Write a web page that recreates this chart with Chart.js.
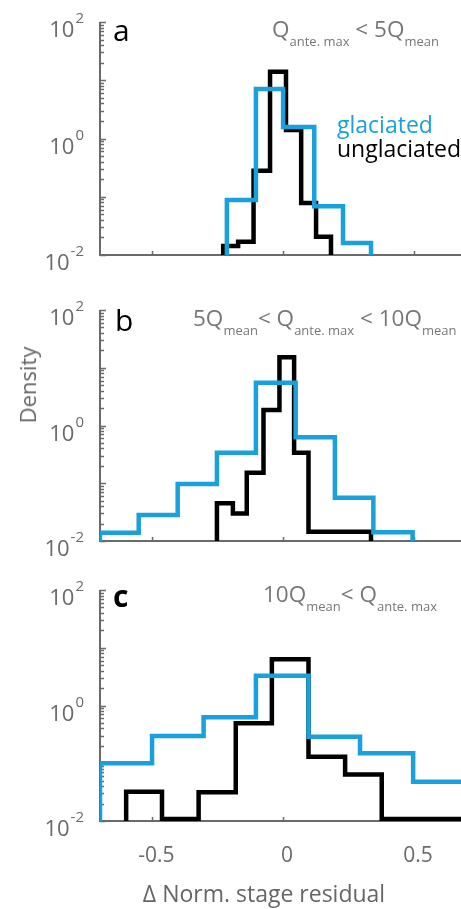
<!DOCTYPE html>
<html>
<head>
<meta charset="utf-8">
<title>Norm. stage residual density</title>
<script src="https://cdn.jsdelivr.net/npm/chart.js@4.4.1/dist/chart.umd.min.js"></script>
<style>
    html, body { margin: 0; padding: 0; background: #fff; }
    body { width: 461px; height: 909px; position: relative; overflow: hidden; font-family: 'Open Sans', sans-serif; }
    .panel { position: absolute; left: 0; width: 461px; }
    .panel canvas { position: absolute; left: 0; top: 0; }
    .lbl { position: absolute; white-space: nowrap; line-height: 1; }
    .letter { font-size: 30px; color: #000; }
    .cond { font-size: 22.5px; color: #777; }
    .cond sub { font-size: 13px; vertical-align: -9px; line-height: 1; }
    .legend { font-size: 23px; }
    .axis-title { font-size: 22px; color: #666; }
</style>
</head>
<body>

<div class="panel" id="panelA" style="top:0;height:290px"><canvas id="chartA" width="461" height="290"></canvas></div>
<div class="panel" id="panelB" style="top:290px;height:290px"><canvas id="chartB" width="461" height="290"></canvas></div>
<div class="panel" id="panelC" style="top:580px;height:329px"><canvas id="chartC" width="461" height="329"></canvas></div>

<div class="lbl letter" style="left:113px;top:15px">a</div>
<div class="lbl letter" style="left:115px;top:305px">b</div>
<div class="lbl letter" style="left:113px;top:581px;font-weight:700">c</div>

<div class="lbl cond" style="left:272px;top:18px">Q<sub>ante. max</sub> &lt; 5Q<sub>mean</sub></div>
<div class="lbl cond" style="left:193px;top:307px">5Q<sub>mean</sub>&lt; Q<sub>ante. max</sub> &lt; 10Q<sub>mean</sub></div>
<div class="lbl cond" style="left:263px;top:583px">10Q<sub>mean</sub>&lt; Q<sub>ante. max</sub></div>

<div class="lbl legend" style="left:337px;top:113px;color:#1aa0da">glaciated</div>
<div class="lbl legend" style="left:337px;top:137px;color:#000">unglaciated</div>

<div class="lbl axis-title" style="left:27px;top:385px;transform:translate(-50%,-50%) rotate(-90deg)">Density</div>
<div class="lbl axis-title" style="left:264px;top:882px;font-size:23px;transform:translateX(-50%)">&Delta; Norm. stage residual</div>

<script>
// ===================================
// Data
// ===================================

// Panel a: Q_ante.max < 5 Q_mean
const aGlacEdges   = [-0.215, -0.104, 0.0, 0.119, 0.229, 0.336];
const aGlacDensity = [0.088, 7.08, 1.58, 0.069, 0.0161];
const aUnglEdges   = [-0.229, -0.172, -0.113, -0.05, 0.011, 0.069, 0.126, 0.183];
const aUnglDensity = [0.0143, 0.0169, 0.28, 14.0, 1.40, 0.078, 0.0206];

// Panel b: 5 Q_mean < Q_ante.max < 10 Q_mean
const bGlacEdges   = [-0.7, -0.552, -0.403, -0.253, -0.104, 0.048, 0.198, 0.345, 0.495];
const bGlacDensity = [0.0139, 0.0282, 0.097, 0.338, 5.51, 0.625, 0.056, 0.0142];
const bUnglEdges   = [-0.253, -0.192, -0.139, -0.075, -0.014, 0.042, 0.097, 0.336];
const bUnglDensity = [0.045, 0.030, 0.152, 1.85, 15.2, 0.338, 0.0145];

// Panel c: 10 Q_mean < Q_ante.max
const cGlacEdges   = [-0.7, -0.501, -0.304, -0.104, 0.097, 0.294, 0.497, 0.72];
const cGlacDensity = [0.0998, 0.296, 0.625, 3.28, 0.288, 0.149, 0.048];
const cUnglEdges   = [-0.6, -0.463, -0.323, -0.181, -0.043, 0.097, 0.237, 0.377, 0.75];
const cUnglDensity = [0.0322, 0.0108, 0.0314, 0.492, 6.31, 0.130, 0.064, 0.0108];

// Axes
const xRange = [-0.7, 0.68];
const yRange = [0.01, 100];
const xTickValues = [-0.5, 0, 0.5];
const xTickLabels = ['-0.5', '0', '0.5'];
const yTickValues = [0.01, 1, 100];
const yTickExps   = ['-2', '0', '2'];

const GLAC_COLOR = '#1aa0da';
const UNGL_COLOR = '#000000';
const AXIS_COLOR = '#6a6a6a';
const TEXT_COLOR = '#6a6a6a';

document.addEventListener('DOMContentLoaded', function() {
    drawPanel('chartA', aGlacEdges, aGlacDensity, aUnglEdges, aUnglDensity, { top: 22, bottom: 35 }, false);
    drawPanel('chartB', bGlacEdges, bGlacDensity, bUnglEdges, bUnglDensity, { top: 20, bottom: 39 }, false);
    drawPanel('chartC', cGlacEdges, cGlacDensity, cUnglEdges, cUnglDensity, { top: 10, bottom: 88 }, true);
});

// Turn bin edges + densities into a closed staircase outline
// (used with stepped: 'before', i.e. horizontal first, then vertical)
function toStairs(edges, values) {
    const pts = [{ x: edges[0], y: yRange[0] }];
    values.forEach((v, i) => pts.push({ x: edges[i], y: v }));
    pts.push({ x: edges[edges.length - 1], y: yRange[0] });
    return pts;
}

// Axis lines, inward ticks and tick labels
const axesPlugin = {
    id: 'stageAxes',
    beforeDatasetsDraw(chart) {
        const { ctx, chartArea } = chart;
        const xs = chart.scales.x;
        const ys = chart.scales.y;
        ctx.save();
        ctx.strokeStyle = AXIS_COLOR;
        ctx.lineWidth = 2;
        ctx.beginPath();
        ctx.moveTo(chartArea.left, chartArea.top);
        ctx.lineTo(chartArea.left, chartArea.bottom);
        ctx.lineTo(chartArea.right, chartArea.bottom);
        ctx.stroke();

        // log ticks: majors at decades, minors at 2..9
        ctx.lineWidth = 1.5;
        ys.ticks.forEach(t => {
            const exp = Math.floor(Math.log10(t.value) + 1e-9);
            const m = t.value / Math.pow(10, exp);
            if (Math.abs(m - Math.round(m)) > 1e-6) return;
            const len = Math.round(m) === 1 ? 5 : 3;
            const py = Math.round(ys.getPixelForValue(t.value)) + 0.5;
            ctx.beginPath();
            ctx.moveTo(chartArea.left, py);
            ctx.lineTo(chartArea.left + 1 + len, py);
            ctx.stroke();
        });

        xs.ticks.forEach(t => {
            if (!xTickValues.some(v => Math.abs(v - t.value) < 1e-9)) return;
            const px = Math.round(xs.getPixelForValue(t.value)) + 0.5;
            ctx.beginPath();
            ctx.moveTo(px, chartArea.bottom);
            ctx.lineTo(px, chartArea.bottom - 4);
            ctx.stroke();
        });
        ctx.restore();
    },
    afterDraw(chart, args, opts) {
        const { ctx } = chart;
        const xs = chart.scales.x;
        const ys = chart.scales.y;
        ctx.save();
        ctx.fillStyle = TEXT_COLOR;
        ctx.textBaseline = 'alphabetic';

        yTickValues.forEach((v, i) => {
            const py = ys.getPixelForValue(v);
            ctx.font = '15px "Open Sans"';
            const supW = ctx.measureText(yTickExps[i]).width;
            ctx.textAlign = 'left';
            ctx.fillText(yTickExps[i], 84 - supW, py + 1);
            ctx.font = '22px "Open Sans"';
            ctx.textAlign = 'right';
            ctx.fillText('10', 84 - supW - 1, py + 15);
        });

        if (opts.showXLabels) {
            ctx.font = '21px "Open Sans"';
            ctx.textAlign = 'center';
            xTickValues.forEach((v, i) => {
                ctx.fillText(xTickLabels[i], xs.getPixelForValue(v) + 4, chart.chartArea.bottom + 41);
            });
        }
        ctx.restore();
    }
};

function drawPanel(canvasId, glacEdges, glacDensity, unglEdges, unglDensity, pad, showXLabels) {
    const ctx = document.getElementById(canvasId);
    if (!ctx) return;

    new Chart(ctx, {
        type: 'line',
        data: {
            datasets: [{
                label: 'glaciated',
                data: toStairs(glacEdges, glacDensity),
                borderColor: GLAC_COLOR,
                borderWidth: 4.5,
                stepped: 'before',
                pointRadius: 0,
                fill: false
            }, {
                label: 'unglaciated',
                data: toStairs(unglEdges, unglDensity),
                borderColor: UNGL_COLOR,
                borderWidth: 4.5,
                stepped: 'before',
                pointRadius: 0,
                fill: false
            }]
        },
        options: {
            responsive: false,
            animation: false,
            devicePixelRatio: 1,
            layout: {
                padding: { left: 100, right: 0, top: pad.top, bottom: pad.bottom }
            },
            plugins: {
                legend: { display: false },
                tooltip: { enabled: false },
                stageAxes: { showXLabels: showXLabels }
            },
            scales: {
                x: {
                    type: 'linear',
                    display: false,
                    min: xRange[0],
                    max: xRange[1],
                    ticks: { stepSize: 0.5, autoSkip: false, includeBounds: false }
                },
                y: {
                    type: 'logarithmic',
                    display: false,
                    min: yRange[0],
                    max: yRange[1],
                    ticks: { autoSkip: false }
                }
            }
        },
        plugins: [axesPlugin]
    });
}
</script>
</body>
</html>
